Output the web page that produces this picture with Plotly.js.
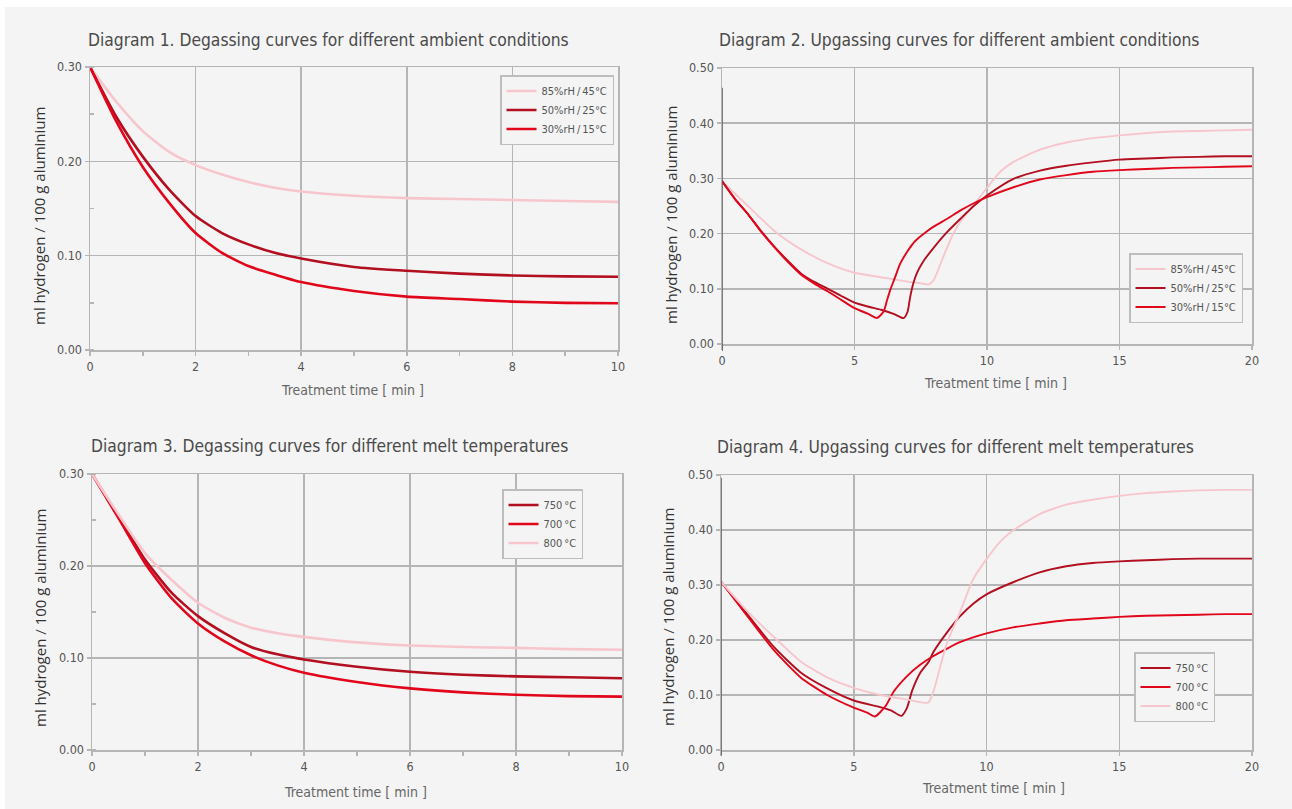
<!DOCTYPE html>
<html>
<head>
<meta charset="utf-8">
<script src="https://cdn.plot.ly/plotly-3.0.1.min.js"></script>
<style>html,body{margin:0;padding:0;background:#f4f4f4;}#chart{width:1292px;height:809px;}</style>
</head>
<body>
<div id="chart"></div>
<script>
// ---------- Data ----------
// Diagram 1: degassing, ambient conditions (time in min, ml H2 / 100 g Al)
const d1_x   = [0, 0.5, 1, 1.5, 2, 2.5, 3, 3.5, 4, 5, 6, 7, 8, 9, 10];
const d1_85  = [0.300, 0.263, 0.232, 0.210, 0.196, 0.186, 0.178, 0.172, 0.168, 0.1635, 0.161, 0.160, 0.159, 0.158, 0.157];
const d1_50  = [0.300, 0.247, 0.205, 0.170, 0.142, 0.124, 0.112, 0.103, 0.097, 0.088, 0.084, 0.081, 0.079, 0.078, 0.0777];
const d1_30  = [0.300, 0.242, 0.194, 0.156, 0.124, 0.103, 0.089, 0.080, 0.072, 0.0626, 0.0566, 0.054, 0.0513, 0.050, 0.0496];

// Diagram 2: upgassing, ambient conditions
const d2_x85 = [0, 1, 2, 3, 4, 5, 6, 7, 7.5, 7.8, 8.0, 8.35, 8.7, 9, 9.5, 10, 10.5, 11, 12, 13, 14, 15, 16, 17, 18, 19, 20];
const d2_85  = [0.295, 0.249, 0.204, 0.171, 0.146, 0.129, 0.121, 0.113, 0.110, 0.108, 0.117, 0.158, 0.197, 0.222, 0.252, 0.283, 0.312, 0.330, 0.352, 0.365, 0.373, 0.378, 0.382, 0.385, 0.386, 0.387, 0.388];
const d2_x50 = [0, 0.5, 1, 1.5, 2, 2.5, 3, 3.5, 4, 4.5, 5, 5.5, 6, 6.5, 6.85, 7.0, 7.1, 7.22, 7.35, 7.6, 8, 8.5, 9, 9.5, 10, 11, 12, 13, 14, 15, 16, 17, 18, 19, 20];
const d2_50  = [0.295, 0.262, 0.234, 0.203, 0.175, 0.150, 0.127, 0.112, 0.100, 0.087, 0.075, 0.068, 0.062, 0.054, 0.047, 0.058, 0.085, 0.110, 0.128, 0.150, 0.175, 0.203, 0.227, 0.250, 0.269, 0.299, 0.314, 0.323, 0.329, 0.334, 0.336, 0.338, 0.339, 0.340, 0.340];
const d2_x30 = [0, 0.5, 1, 1.5, 2, 2.5, 3, 3.5, 4, 4.5, 5, 5.5, 5.85, 6.1, 6.22, 6.35, 6.54, 6.72, 7.0, 7.3, 7.7, 8, 8.5, 9, 9.5, 10, 11, 12, 13, 14, 15, 16, 17, 18, 19, 20];
const d2_30  = [0.295, 0.262, 0.234, 0.202, 0.174, 0.148, 0.125, 0.109, 0.095, 0.080, 0.065, 0.055, 0.047, 0.059, 0.078, 0.098, 0.122, 0.145, 0.168, 0.187, 0.203, 0.213, 0.227, 0.242, 0.255, 0.266, 0.284, 0.298, 0.306, 0.312, 0.315, 0.317, 0.319, 0.320, 0.321, 0.322];

// Diagram 3: degassing, melt temperatures
const d3_x   = [0, 0.5, 1, 1.5, 2, 2.5, 3, 3.5, 4, 5, 6, 7, 8, 9, 10];
const d3_750 = [0.300, 0.254, 0.207, 0.171, 0.1455, 0.127, 0.112, 0.104, 0.0984, 0.0905, 0.085, 0.0818, 0.080, 0.079, 0.078];
const d3_700 = [0.300, 0.252, 0.203, 0.165, 0.1375, 0.118, 0.103, 0.092, 0.084, 0.074, 0.067, 0.0626, 0.060, 0.0586, 0.058];
const d3_800 = [0.300, 0.256, 0.214, 0.185, 0.160, 0.1437, 0.133, 0.127, 0.123, 0.117, 0.1136, 0.112, 0.111, 0.1097, 0.109];

// Diagram 4: upgassing, melt temperatures
const d4_x750 = [0, 1, 2, 3, 4, 5, 6, 6.4, 6.8, 7.0, 7.2, 7.5, 7.83, 8, 8.5, 9, 9.5, 10, 11, 12, 13, 14, 15, 16, 17, 18, 19, 20];
const d4_750  = [0.306, 0.246, 0.187, 0.141, 0.112, 0.090, 0.078, 0.072, 0.062, 0.076, 0.108, 0.140, 0.161, 0.178, 0.213, 0.243, 0.266, 0.283, 0.305, 0.323, 0.334, 0.340, 0.343, 0.345, 0.347, 0.348, 0.348, 0.348];
const d4_x700 = [0, 1, 2, 3, 4, 5, 5.5, 5.8, 6.2, 6.5, 7, 7.5, 8, 8.5, 9, 10, 11, 12, 13, 14, 15, 16, 17, 18, 19, 20];
const d4_700  = [0.306, 0.243, 0.181, 0.132, 0.100, 0.077, 0.068, 0.061, 0.080, 0.106, 0.134, 0.155, 0.171, 0.184, 0.196, 0.212, 0.223, 0.230, 0.236, 0.239, 0.242, 0.244, 0.245, 0.246, 0.247, 0.247];
const d4_x800 = [0, 1, 2, 3, 4, 5, 6, 7, 7.8, 8.0, 8.2, 8.5, 9, 9.5, 10, 10.5, 11, 12, 13, 14, 15, 16, 17, 18, 19, 20];
const d4_800  = [0.306, 0.252, 0.205, 0.161, 0.132, 0.113, 0.100, 0.092, 0.086, 0.106, 0.141, 0.193, 0.250, 0.311, 0.347, 0.378, 0.399, 0.429, 0.446, 0.455, 0.462, 0.467, 0.470, 0.472, 0.473, 0.473];

// Labels
const titles = [
  'Diagram 1. Degassing curves for different ambient conditions',
  'Diagram 2. Upgassing curves for different ambient conditions',
  'Diagram 3. Degassing curves for different melt temperatures',
  'Diagram 4. Upgassing curves for different melt temperatures'
];
const ambientNames = ['85%rH\u2009/\u200945°C', '50%rH\u2009/\u200925°C', '30%rH\u2009/\u200915°C'];
const tempNames = ['750\u2009°C', '700\u2009°C', '800\u2009°C'];
const yTitle = 'ml hydrogen / 100 g aluminium';
const xTitle = 'Treatment time [ min ]';

// ---------- Styles ----------
const PINK = '#f7c6cd', DARK = '#b20f20', RED = '#e2061b';
const BG = '#f4f4f4', GRID = '#b5b5b5';
const COND = '"DejaVu Sans Condensed", "Liberation Sans Narrow", sans-serif';
const W = 1292, H = 809;
const px = v => v / W, py = v => 1 - v / H;

function tr(x, y, name, color, width, ax, leg) {
  return { x: x, y: y, name: name, type: 'scatter', mode: 'lines',
    line: { color: color, width: width, shape: 'spline', smoothing: 0.6 },
    xaxis: 'x' + ax, yaxis: 'y' + ax, legend: leg, hoverinfo: 'skip' };
}

const traces = [
  tr(d1_x, d1_85, ambientNames[0], PINK, 2.6, '', 'legend'),
  tr(d1_x, d1_50, ambientNames[1], DARK, 2.6, '', 'legend'),
  tr(d1_x, d1_30, ambientNames[2], RED, 2.6, '', 'legend'),
  tr(d2_x85, d2_85, ambientNames[0], PINK, 1.9, '2', 'legend2'),
  tr(d2_x50, d2_50, ambientNames[1], DARK, 1.9, '2', 'legend2'),
  tr(d2_x30, d2_30, ambientNames[2], RED, 1.9, '2', 'legend2'),
  tr(d3_x, d3_750, tempNames[0], DARK, 2.6, '3', 'legend3'),
  tr(d3_x, d3_700, tempNames[1], RED, 2.6, '3', 'legend3'),
  tr(d3_x, d3_800, tempNames[2], PINK, 2.6, '3', 'legend3'),
  tr(d4_x750, d4_750, tempNames[0], DARK, 1.9, '4', 'legend4'),
  tr(d4_x700, d4_700, tempNames[1], RED, 1.9, '4', 'legend4'),
  tr(d4_x800, d4_800, tempNames[2], PINK, 1.9, '4', 'legend4')
];

function xax(domain, xmax, dtick, anchor, minor) {
  const a = { domain: domain, range: [0, xmax], dtick: dtick, tick0: 0, anchor: anchor,
    showgrid: true, gridcolor: GRID, gridwidth: 1.5, zeroline: false,
    showline: true, mirror: true, linecolor: GRID, linewidth: 1.5,
    ticks: 'outside', ticklen: 4, tickwidth: 1.5, tickcolor: GRID,
    tickfont: { family: COND, size: 12.5, color: '#555' }, fixedrange: true };
  if (minor) a.minor = { dtick: 1, ticks: 'outside', ticklen: 4, tickwidth: 1.5, tickcolor: GRID, showgrid: false };
  return a;
}
function yax(domain, ymax, anchor, minor) {
  const a = { domain: domain, range: [0, ymax], dtick: 0.1, tick0: 0, anchor: anchor, tickformat: '.2f',
    showgrid: true, gridcolor: GRID, gridwidth: 1.5, zeroline: false,
    showline: true, mirror: true, linecolor: GRID, linewidth: 1.5,
    ticks: 'outside', ticklen: 4, tickwidth: 1.5, tickcolor: GRID,
    tickfont: { family: COND, size: 12.5, color: '#555' }, fixedrange: true };
  if (minor) a.minor = { dtick: 0.05, ticks: 'inside', ticklen: 4, tickwidth: 1.5, tickcolor: GRID, showgrid: false };
  return a;
}

function leg(x, y) {
  return { x: px(x), y: py(y), xanchor: 'left', yanchor: 'top', bgcolor: BG,
    bordercolor: '#bdbdbd', borderwidth: 1.5, itemwidth: 30,
    font: { family: COND, size: 11, color: '#555' }, traceorder: 'normal' };
}

const annotations = [];
function addTitle(t, x, y) {
  annotations.push({ text: t, xref: 'paper', yref: 'paper', x: px(x), y: py(y), xanchor: 'left', yanchor: 'middle',
    showarrow: false, font: { family: COND, size: 17.3, color: '#4a4a4a' } });
}
function addYTitle(x, y) {
  annotations.push({ text: yTitle, xref: 'paper', yref: 'paper', x: px(x), y: py(y), xanchor: 'center', yanchor: 'middle',
    textangle: -90, showarrow: false, font: { family: '"Open Sans", sans-serif', size: 15, color: '#333' } });
}
function addXTitle(x, y) {
  annotations.push({ text: xTitle, xref: 'paper', yref: 'paper', x: px(x), y: py(y), xanchor: 'center', yanchor: 'middle',
    showarrow: false, font: { family: COND, size: 14, color: '#666' } });
}
addTitle(titles[0], 86, 40); addTitle(titles[1], 717, 40);
addTitle(titles[2], 89, 446); addTitle(titles[3], 715, 447);
addYTitle(39, 216); addYTitle(671, 215); addYTitle(40, 618); addYTitle(668, 617);
addXTitle(352, 390); addXTitle(995, 383); addXTitle(355, 792); addXTitle(993, 788);

const layout = {
  width: W, height: H, margin: { l: 0, r: 0, t: 0, b: 0 },
  paper_bgcolor: BG, plot_bgcolor: BG, showlegend: true, hovermode: false,
  xaxis:  xax([px(90), px(618)], 10, 2, 'y', true),
  yaxis:  yax([py(350), py(67)], 0.30, 'x', true),
  xaxis2: xax([px(722), px(1252)], 20, 5, 'y2', false),
  yaxis2: yax([py(344), py(68)], 0.50, 'x2', false),
  xaxis3: xax([px(92), px(622)], 10, 2, 'y3', true),
  yaxis3: yax([py(750), py(474)], 0.30, 'x3', true),
  xaxis4: xax([px(721), px(1252)], 20, 5, 'y4', false),
  yaxis4: yax([py(750), py(475)], 0.50, 'x4', false),
  legend: leg(500, 75), legend2: leg(1129, 253), legend3: leg(502, 489), legend4: leg(1134, 652),
  annotations: annotations,
  shapes: [
    { type: 'rect', xref: 'paper', yref: 'paper', x0: 0, x1: 1, y0: py(7), y1: 1, fillcolor: '#ffffff', line: { width: 0 }, layer: 'below' },
    { type: 'rect', xref: 'paper', yref: 'paper', x0: 0, x1: px(5), y0: 0, y1: 1, fillcolor: '#ffffff', line: { width: 0 }, layer: 'below' },
    { type: 'line', xref: 'x2', yref: 'y2 domain', x0: 0, x1: 0, y0: -0.025, y1: 0.928, line: { color: '#555', width: 1.5 } },
    { type: 'line', xref: 'x4', yref: 'y4 domain', x0: 0, x1: 0, y0: -0.02, y1: 0.99, line: { color: '#555', width: 1.5 } }
  ]
};

Plotly.newPlot('chart', traces, layout, { staticPlot: true, displayModeBar: false });
</script>
</body>
</html>
